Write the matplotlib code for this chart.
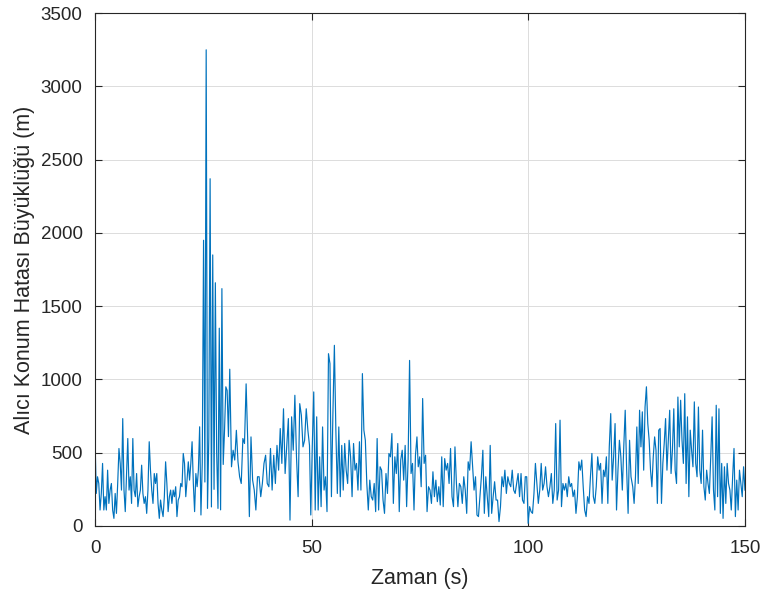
import numpy as np
import matplotlib
matplotlib.use("Agg")
import matplotlib.pyplot as plt

# receiver position error magnitude (m) in pieces;
# each piece spans its own time window (s)
seg_a_t = (0.0, 24.15)
seg_a = [597, 222, 336, 290, 109, 222, 427, 109, 200, 109, 381, 154, 245, 290, 109, 52,
         222, 86, 290, 529, 427, 245, 733, 245, 98, 358, 597, 245, 336, 154, 597, 245,
         200, 358, 132, 200, 245, 415, 222, 154, 200, 86, 245, 575, 381, 245, 154, 358,
         290, 358, 154, 52, 177, 109, 64, 200, 438, 290, 98, 200, 245, 154, 245, 200,
         268, 64, 177, 200, 290, 268, 495, 427, 200, 313, 438, 313, 427, 575, 290, 98,
         358, 268, 381, 677]

seg_b_t = (24.45, 31.1)
seg_b = [75, 430, 1950, 300, 3250, 120, 600, 2370, 130, 1850, 250, 1660, 500, 120,
         1350, 110, 1620, 420, 650, 950, 925, 610, 1070]

seg_c_t = (31.5, 49.5)
seg_c = [404, 517, 450, 653, 438, 336, 290, 597, 563, 970, 575, 64, 608, 313, 245, 109,
         336, 336, 200, 290, 427, 483, 290, 268, 529, 245, 483, 290, 550, 381, 665, 427,
         800, 358, 540, 733, 40, 745, 517, 892, 472, 200, 835, 756, 540, 585, 800, 654, 550]

seg_d_t = (49.8, 74.3)
seg_d = [75, 540, 915, 109, 745, 109, 472, 132, 676, 245, 336, 98, 1176, 1108, 200, 767,
         1233, 654, 222, 676, 200, 550, 245, 563, 381, 290, 585, 472, 200, 563, 381, 427,
         245, 575, 245, 1040, 654, 585, 290, 109, 313, 200, 177, 290, 98, 597, 109, 404,
         381, 177, 86, 358, 222, 495, 472, 631, 154, 472, 358, 563, 98, 450, 517, 313,
         550, 132, 450, 1130, 358, 427, 109, 483, 608]

seg_e_t = (74.6, 99.0)
seg_e = [404, 472, 268, 870, 427, 483, 98, 268, 245, 154, 370, 200, 313, 166, 268, 143,
         472, 132, 460, 381, 427, 290, 529, 200, 132, 540, 290, 132, 290, 268, 154, 336,
         245, 86, 438, 381, 575, 404, 245, 336, 75, 64, 200, 336, 517, 86, 336, 200, 64,
         550, 86, 200, 302, 177, 177, 30, 132, 336, 268, 381, 222, 336, 290, 268, 381,
         245, 222, 290, 358, 200, 358, 177, 154]

seg_f_t = (99.3, 123.7)
seg_f = [336, 336, 18, 132, 98, 86, 222, 427, 290, 154, 245, 427, 245, 290, 404, 268,
         200, 268, 358, 154, 245, 699, 177, 245, 722, 132, 290, 245, 290, 200, 336, 268,
         290, 200, 245, 86, 200, 438, 381, 450, 268, 109, 64, 200, 154, 336, 495, 200,
         154, 268, 472, 381, 427, 154, 381, 336, 472, 154, 540, 767, 313, 472, 699, 109,
         381, 585, 472, 245, 540, 790, 381, 86, 585, 336]

seg_g_t = (124.1, 150.0)
seg_g = [268, 154, 336, 676, 290, 790, 540, 779, 381, 812, 950, 699, 585, 381, 268, 472,
         608, 517, 154, 654, 665, 154, 427, 563, 733, 381, 585, 790, 358, 517, 800, 381,
         290, 880, 540, 858, 585, 427, 903, 290, 745, 200, 654, 517, 404, 847, 427, 336,
         812, 381, 290, 654, 268, 177, 381, 290, 222, 472, 745, 245, 109, 824, 200, 800,
         86, 427, 52, 404, 154, 427, 290, 245, 109, 336, 529, 64, 313, 109, 381, 290,
         200, 404, 245]

segments = [(seg_a_t, seg_a), (seg_b_t, seg_b), (seg_c_t, seg_c), (seg_d_t, seg_d),
            (seg_e_t, seg_e), (seg_f_t, seg_f), (seg_g_t, seg_g)]

t = np.concatenate([np.linspace(a, b, len(v)) for (a, b), v in segments])
err = np.concatenate([np.asarray(v, float) for _, v in segments])

plt.rcParams["font.family"] = ["Liberation Sans", "DejaVu Sans"]
dark = "#262626"

fig = plt.figure(figsize=(7.68, 5.99), dpi=100)
ax = fig.add_axes([0.1237, 0.1219, 0.8463, 0.8561])
ax.plot(t, err, color="#0072BD", lw=0.85)

ax.set_xlim(0, 150)
ax.set_ylim(0, 3500)
ax.set_xticks([0, 50, 100, 150])
ax.set_yticks(np.arange(0, 3501, 500))
ax.grid(True, color="#dcdcdc", lw=0.7)
ax.set_axisbelow(True)
ax.tick_params(direction="in", top=True, right=True, length=5, width=0.8,
               colors=dark, labelsize=13.5)
ax.tick_params(axis="x", pad=10)
ax.tick_params(axis="y", pad=9)
for s in ax.spines.values():
    s.set_color(dark)
    s.set_linewidth(0.8)
ax.set_xlabel("Zaman (s)", fontsize=15.5, color=dark, labelpad=8)
ax.set_ylabel("Alıcı Konum Hatası Büyüklüğü (m)", fontsize=15.5, color=dark, labelpad=4)

fig.savefig("out.png", dpi=100)
